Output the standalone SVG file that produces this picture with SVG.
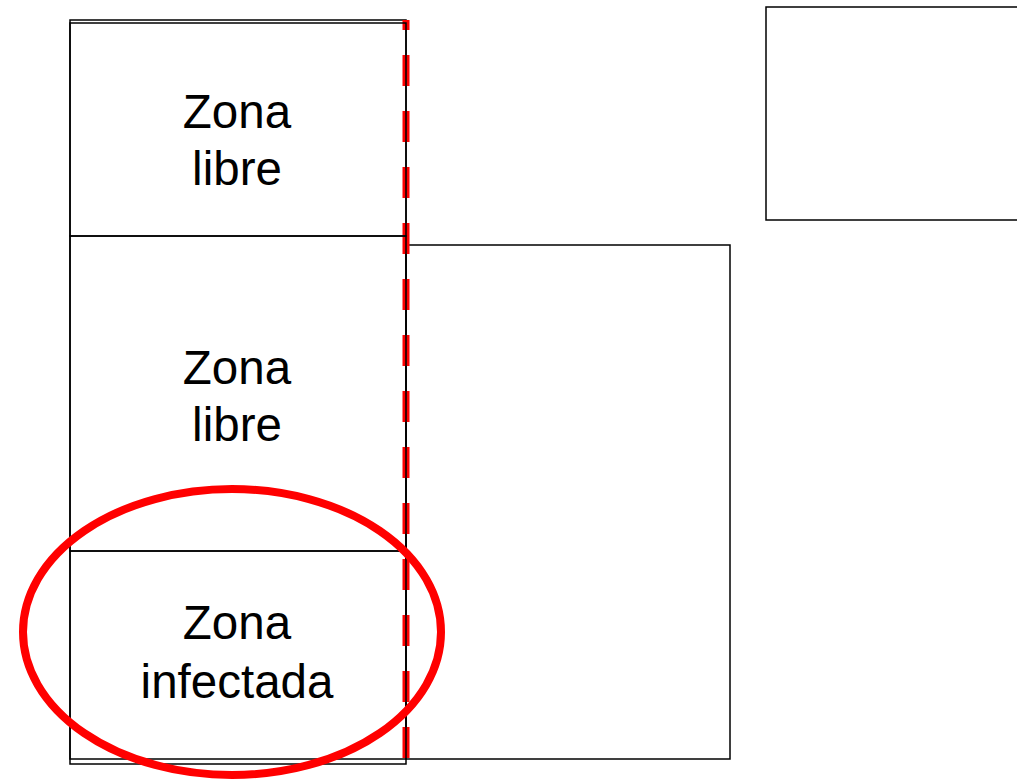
<svg xmlns="http://www.w3.org/2000/svg" width="1017" height="781" viewBox="0 0 1017 781">
<style>
.box{fill:none;stroke:#000;stroke-width:1.5}
.lbl{font-family:"Liberation Sans",Arial,sans-serif;font-size:47.5px;fill:#000;text-anchor:middle}
</style>
<rect width="1017" height="781" fill="#fff"/>
<g id="outer"><rect class="box" x="70" y="20" width="336" height="744"/></g>
<g id="right-box"><rect class="box" x="406" y="245" width="324" height="514"/></g>
<g id="top-right-box"><rect class="box" x="766" y="7" width="270" height="213"/></g>
<g id="connectors">
<line x1="406" y1="20" x2="406" y2="760" stroke="#f00" stroke-width="7" stroke-dasharray="31 25" stroke-dashoffset="21"/>
</g>
<g id="zona1"><rect class="box" x="70" y="23" width="336" height="213"/>
<text class="lbl" x="237" y="128">Zona</text><text class="lbl" x="237" y="185">libre</text></g>
<g id="zona2"><rect class="box" x="70" y="236" width="336" height="315"/>
<text class="lbl" x="237" y="384">Zona</text><text class="lbl" x="237" y="441">libre</text></g>
<g id="zona3"><rect class="box" x="70" y="551" width="336" height="208"/>
<text class="lbl" x="237" y="639">Zona</text><text class="lbl" x="237" y="698">infectada</text></g>
<g id="ellipse"><ellipse cx="232" cy="632" rx="209" ry="143" fill="none" stroke="#f00" stroke-width="8"/></g>
</svg>
